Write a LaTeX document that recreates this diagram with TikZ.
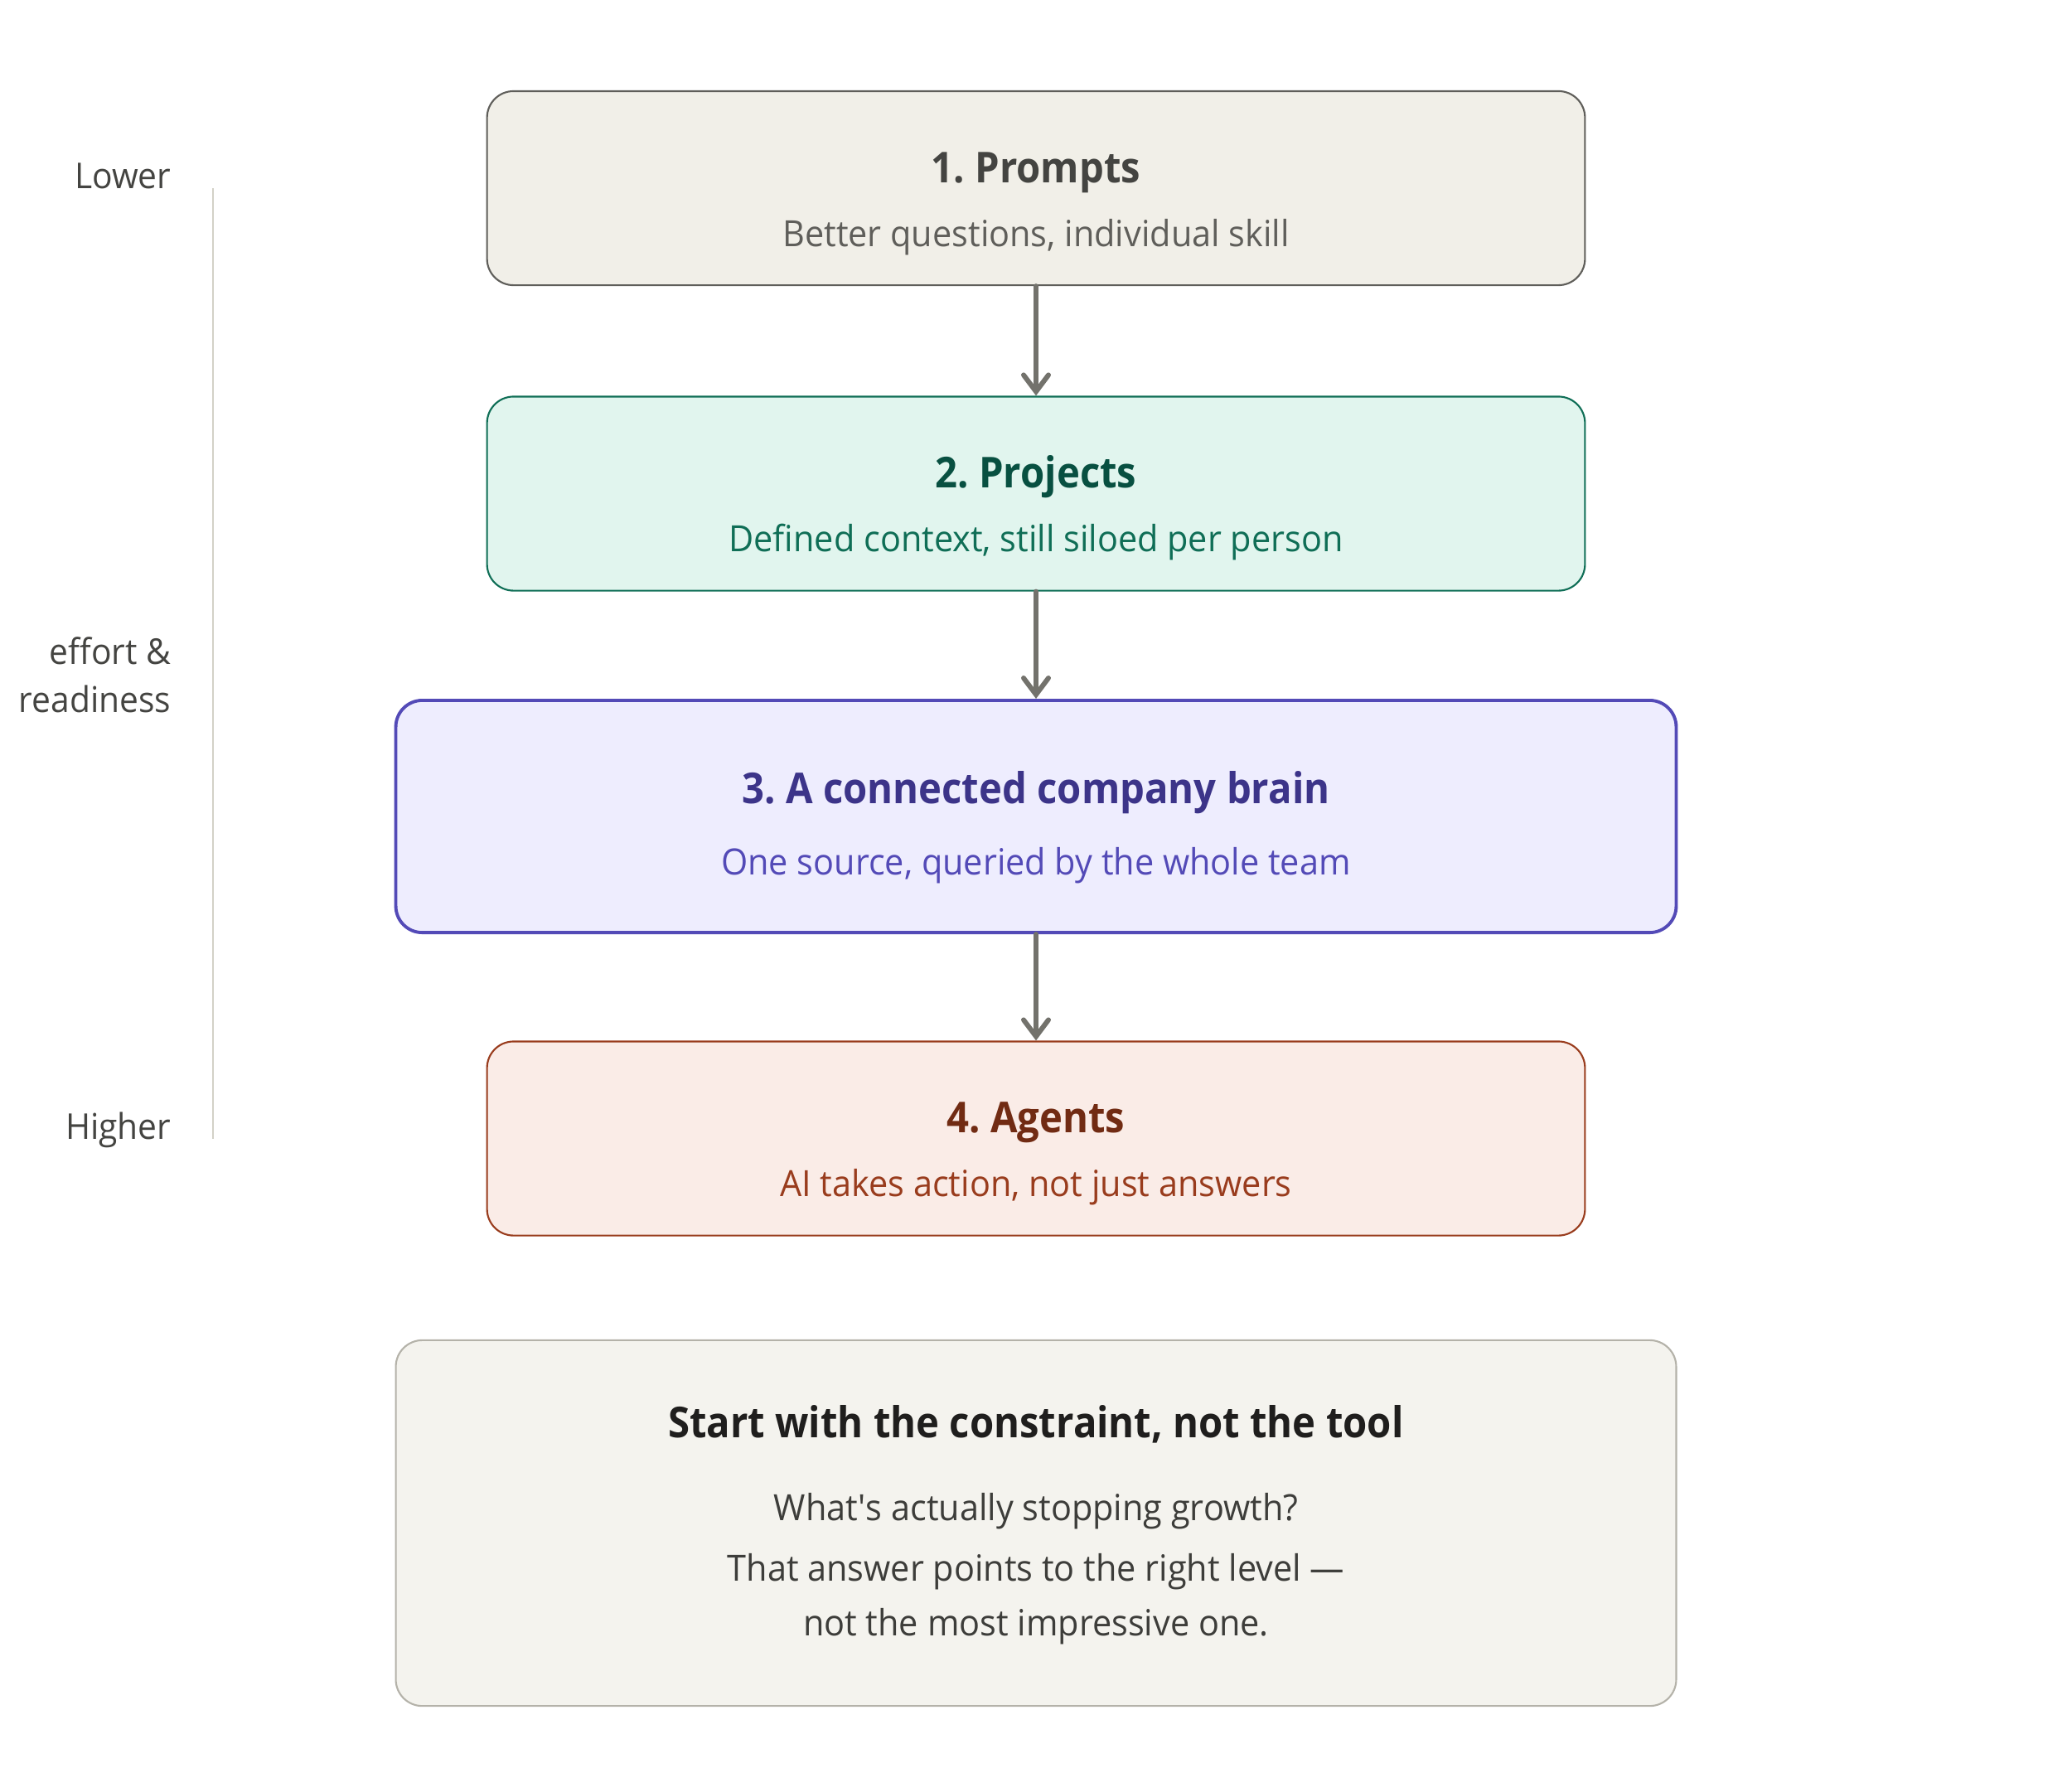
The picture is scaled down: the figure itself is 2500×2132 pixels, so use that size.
\documentclass[tikz,border=0pt]{standalone}
\usepackage{fontspec}
\setmainfont{Open Sans}[FakeStretch=0.95, BoldFeatures={FakeStretch=0.92}]
\usetikzlibrary{arrows.meta}
\frenchspacing

\definecolor{arrowgray}{HTML}{73726C}
\definecolor{axisgray}{HTML}{D3D1C7}
\definecolor{labelgray}{HTML}{444441}
\definecolor{promptfill}{HTML}{F1EFE8}
\definecolor{promptline}{HTML}{5F5E5A}
\definecolor{prompttitle}{HTML}{444441}
\definecolor{projfill}{HTML}{E1F5EE}
\definecolor{projline}{HTML}{0F6E56}
\definecolor{projtitle}{HTML}{085041}
\definecolor{brainfill}{HTML}{EEEDFE}
\definecolor{brainline}{HTML}{534AB7}
\definecolor{braintitle}{HTML}{3C3489}
\definecolor{agentfill}{HTML}{FAECE7}
\definecolor{agentline}{HTML}{993C1D}
\definecolor{agenttitle}{HTML}{712B13}
\definecolor{notefill}{HTML}{F4F3EE}
\definecolor{noteline}{HTML}{B4B2A9}
\definecolor{notetitle}{HTML}{1F1E1D}
\definecolor{notetext}{HTML}{3D3D3A}

\tikzset{
  stagebox/.style={draw, rounded corners=0.32cm, line width=0.6pt, inner sep=0pt,
    minimum width=13.24cm, minimum height=2.34cm},
  stagetitle/.style={anchor=base, inner sep=0pt, font=\fontsize{14.6}{17}\selectfont\bfseries},
  stagesub/.style={anchor=base, inner sep=0pt, font=\fontsize{12.4}{15}\selectfont},
  sidelabel/.style={anchor=base east, inner sep=0pt, text=labelgray, font=\fontsize{12.2}{15}\selectfont},
  levelarrow/.style={arrowgray, line width=1.7pt, line cap=round,
    -{Straight Barb[length=2mm, width=3mm, line cap=round]}}
}

\begin{document}
\begin{tikzpicture}[x=0.01cm, y=-0.01cm]
    \useasboundingbox (0, 0) rectangle (2500, 2132);

    \coordinate (axtop) at (257, 227);
    \coordinate (axbot) at (257, 1374);
    \draw [axisgray, line width=0.6pt] (axtop) -- (axbot);
    \node [sidelabel] (lower) at (207, 227) {Lower};
    \node [sidelabel] (effort) at (207, 801) {effort \&};
    \node [sidelabel] (ready) at (207, 859) {readiness};
    \node [sidelabel] (higher) at (207, 1374) {Higher};

    \node [stagebox, fill=promptfill, draw=promptline] (prompts) at (1250, 227) {};
    \node [stagetitle, text=prompttitle] (promptsT) at (1250, 220) {1. Prompts};
    \node [stagesub, text=promptline] (promptsS) at (1250, 297) {Better questions, individual skill};

    \node [stagebox, fill=projfill, draw=projline] (projects) at (1250, 595.5) {};
    \node [stagetitle, text=projtitle] (projectsT) at (1250, 588) {2. Projects};
    \node [stagesub, text=projline] (projectsS) at (1250, 665) {Defined context, still siloed per person};

    \node [stagebox, fill=brainfill, draw=brainline, line width=1.1pt,
           minimum width=15.44cm, minimum height=2.8cm] (brain) at (1250, 985) {};
    \node [stagetitle, text=braintitle] (brainT) at (1250, 969) {3. A connected company brain};
    \node [stagesub, text=brainline] (brainS) at (1250, 1055) {One source, queried by the whole team};

    \node [stagebox, fill=agentfill, draw=agentline] (agents) at (1250, 1373.5) {};
    \node [stagetitle, text=agenttitle] (agentsT) at (1250, 1366) {4. Agents};
    \node [stagesub, text=agentline] (agentsS) at (1250, 1443) {AI takes action, not just answers};

    \draw [levelarrow] (prompts) -- (projects);
    \draw [levelarrow] (projects) -- (brain);
    \draw [levelarrow] (brain) -- (agents);

    \node [stagebox, fill=notefill, draw=noteline, minimum width=15.44cm,
           minimum height=4.41cm] (note) at (1250, 1837.5) {};
    \node [stagetitle, text=notetitle] (noteT) at (1250, 1734) {Start with the constraint, not the tool};
    \node [stagesub, text=notetext] (noteA) at (1250, 1834) {What\textquotesingle s actually stopping growth?};
    \node [stagesub, text=notetext] (noteB) at (1250, 1907) {That answer points to the right level ---};
    \node [stagesub, text=notetext] (noteC) at (1250, 1973) {not the most impressive one.};
\end{tikzpicture}
\end{document}
